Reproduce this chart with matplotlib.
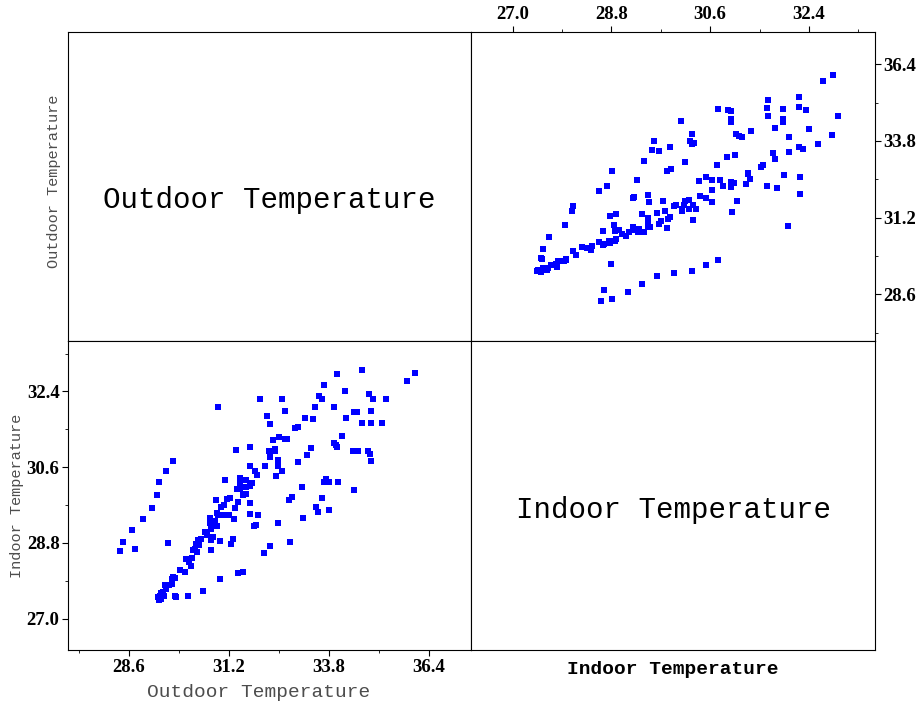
import numpy as np
import matplotlib
matplotlib.use('Agg')
import matplotlib.pyplot as plt
from matplotlib.ticker import FixedLocator, FormatStrFormatter

plt.rcParams['font.family'] = ['Liberation Mono', 'DejaVu Sans Mono']

names = ['Outdoor Temperature', 'Indoor Temperature']

outdoor = np.array([
    28.38, 28.45, 28.76, 28.69, 28.96, 29.21, 29.34, 29.38, 29.58, 29.76,
    29.63, 30.92, 32.01, 32.58, 32.20, 32.27, 32.65, 34.01, 34.66, 33.68,
    34.22, 33.53, 33.61, 33.43, 33.92, 34.85, 34.94, 35.28, 35.84, 36.04,
    34.45, 34.53, 34.89, 34.25, 34.66, 34.90, 35.18, 33.18, 33.38, 32.92,
    33.00, 34.14, 33.92, 33.98, 34.02, 33.34, 33.24, 34.43, 34.56, 34.81,
    34.86, 34.89, 32.34, 32.50, 32.67, 32.72, 31.38, 31.76, 32.39, 32.23,
    32.41, 32.28, 32.48, 32.47, 32.59, 33.00, 31.74, 31.88, 31.94, 32.14,
    32.43, 31.11, 31.50, 31.64, 31.48, 31.79, 31.75, 31.64, 31.42, 31.48,
    31.58, 31.64, 31.23, 31.15, 30.86, 31.44, 31.75, 30.99, 31.08, 31.35,
    30.89, 30.92, 31.05, 31.12, 31.20, 31.34, 31.74, 31.96, 30.72, 30.71,
    30.83, 30.89, 30.77, 30.73, 30.59, 30.64, 30.78, 30.74, 30.48, 30.41,
    30.42, 30.34, 30.31, 30.37, 30.26, 30.96, 31.31, 31.25, 30.25, 30.09,
    30.16, 30.22, 30.74, 29.92, 30.07, 29.76, 29.73, 29.80, 29.73, 29.64,
    29.53, 29.58, 29.50, 29.43, 29.51, 29.41, 29.36, 29.44, 29.38, 29.79,
    29.84, 30.14, 30.54, 30.96, 31.43, 31.58, 31.86, 31.91, 32.47, 32.11,
    32.27, 32.79, 33.13, 33.46, 33.51, 33.81, 33.61, 32.77, 32.84, 33.09,
    33.68, 33.72, 33.80, 34.04, 34.46,
])

indoor = np.array([
    28.61, 28.82, 28.66, 29.11, 29.36, 29.64, 29.94, 30.26, 30.52, 30.75,
    28.79, 32.02, 32.23, 32.23, 31.81, 31.63, 31.94, 32.82, 32.92, 32.56,
    32.40, 32.30, 32.22, 32.04, 32.04, 32.35, 32.21, 32.22, 32.66, 32.84,
    31.92, 31.92, 31.93, 31.78, 31.66, 31.64, 31.66, 31.78, 31.74, 31.53,
    31.56, 31.35, 31.18, 31.13, 31.07, 31.05, 30.90, 30.98, 30.98, 30.98,
    30.92, 30.75, 31.25, 31.32, 31.28, 31.28, 31.00, 31.09, 31.04, 30.98,
    30.98, 30.84, 30.77, 30.64, 30.52, 30.72, 30.64, 30.52, 30.42, 30.64,
    30.39, 30.29, 30.34, 30.29, 30.21, 30.22, 30.15, 30.13, 30.08, 30.09,
    29.94, 29.97, 29.87, 29.84, 29.81, 29.77, 29.74, 29.66, 29.70, 29.64,
    29.51, 29.47, 29.47, 29.47, 29.47, 29.36, 29.49, 29.46, 29.39, 29.28,
    29.31, 29.20, 29.20, 29.13, 29.07, 29.00, 28.94, 28.86, 28.89, 28.86,
    28.76, 28.78, 28.66, 28.58, 28.64, 28.84, 28.89, 28.77, 28.45, 28.42,
    28.35, 28.26, 28.64, 28.16, 28.10, 27.98, 27.94, 27.97, 27.82, 27.80,
    27.81, 27.70, 27.64, 27.62, 27.55, 27.53, 27.51, 27.47, 27.44, 27.54,
    27.51, 27.55, 27.66, 27.95, 28.08, 28.10, 29.20, 29.22, 29.27, 28.57,
    28.72, 28.82, 29.39, 29.66, 29.54, 29.58, 29.87, 29.81, 29.89, 30.14,
    30.26, 30.31, 30.24, 30.26, 30.07,
])

out_major = [28.6, 31.2, 33.8, 36.4]
out_minor = [27.3, 29.9, 32.5, 35.1]
in_major = [27.0, 28.8, 30.6, 32.4]
in_minor = [27.9, 29.7, 31.5, 33.3]

out_lim = (27.02, 37.5)
in_lim = (26.25, 33.6)

label_gray = '#4d4d4d'
tick_font = {'family': 'Liberation Serif', 'weight': 'bold', 'size': 13.5}


def style_ticks(ax, axis, major, minor):
    target = ax.xaxis if axis == 'x' else ax.yaxis
    target.set_major_locator(FixedLocator(major))
    target.set_minor_locator(FixedLocator(minor))
    target.set_major_formatter(FormatStrFormatter('%.1f'))


def finish_labels(ax):
    for lab in ax.get_xticklabels() + ax.get_yticklabels():
        lab.set_fontproperties(tick_font)


fig, axes = plt.subplots(2, 2, figsize=(9.18, 7.06), dpi=100)
fig.subplots_adjust(left=0.074, right=0.953, top=0.955, bottom=0.079,
                    wspace=0, hspace=0)

# diagonal panels carry only the variable name
for k, ax in enumerate([axes[0, 0], axes[1, 1]]):
    ax.set_xticks([])
    ax.set_yticks([])
    ax.text(0.5, 0.5, names[k], transform=ax.transAxes, ha='center',
            va='top', fontsize=21)

axes[0, 0].set_ylabel(names[0], fontsize=11, color=label_gray)
axes[0, 0].yaxis.set_label_coords(-0.017, 0.515)
axes[1, 1].set_xlabel(names[1], fontsize=14, fontweight='bold')
axes[1, 1].xaxis.set_label_coords(0.5, -0.036)

# lower left: outdoor vs indoor
ax = axes[1, 0]
ax.scatter(outdoor, indoor, marker='s', s=16, color='blue', linewidths=0)
ax.set_xlim(out_lim)
ax.set_ylim(in_lim)
ax.tick_params(which='both', direction='out')
ax.tick_params(which='major', length=4, pad=2)
ax.tick_params(which='minor', length=2)
style_ticks(ax, 'x', out_major, out_minor)
style_ticks(ax, 'y', in_major, in_minor)
finish_labels(ax)
ax.set_xlabel(names[0], fontsize=14, color=label_gray)
ax.xaxis.set_label_coords(0.473, -0.110)
ax.set_ylabel(names[1], fontsize=11, color=label_gray)
ax.yaxis.set_label_coords(-0.109, 0.50)

# upper right: indoor vs outdoor, ticks on top and right
ax = axes[0, 1]
ax.scatter(indoor, outdoor, marker='s', s=16, color='blue', linewidths=0)
ax.set_xlim(in_lim)
ax.set_ylim(out_lim)
ax.xaxis.tick_top()
ax.yaxis.tick_right()
ax.tick_params(which='both', direction='out')
ax.tick_params(which='major', length=4, pad=2)
ax.tick_params(which='minor', length=2)
style_ticks(ax, 'x', in_major, in_minor)
style_ticks(ax, 'y', out_major, out_minor)
finish_labels(ax)

fig.savefig('out.png', dpi=100)
